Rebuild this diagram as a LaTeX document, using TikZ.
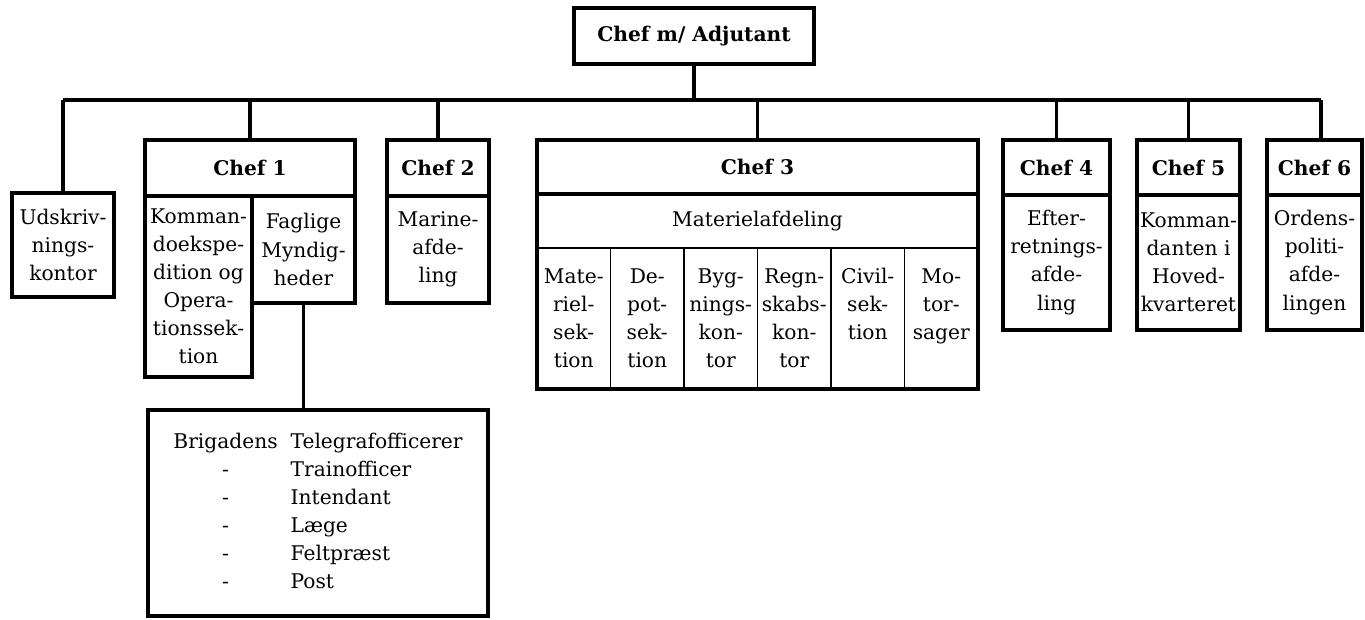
\documentclass[tikz,border=0pt]{standalone}
\usepackage{fontspec}
\setmainfont{DejaVu Serif}
\usetikzlibrary{positioning}

\newcommand{\orgtxt}{\fontsize{11.5}{16}\selectfont}
\newcommand{\orghead}{\fontsize{11.5}{16}\selectfont\bfseries}

\tikzset{
  orgbox/.style={draw, line width=2pt, inner sep=0pt, outer sep=0pt, align=center, font=\orgtxt},
  headbox/.style={orgbox, font=\orghead},
  thinbox/.style={draw, line width=0.9pt, inner sep=0pt, outer sep=0pt},
  orglabel/.style={inner sep=0pt, align=center, font=\orgtxt},
  link/.style={line width=2pt}
}

\begin{document}
\begin{tikzpicture}[x=0.02cm, y=-0.02cm]
  \useasboundingbox (0,0) rectangle (1365,619);
  % top and bus
  \node[headbox, minimum width=4.8cm, minimum height=1.12cm] (chefadj) at (694,36) {Chef m/ Adjutant};
  \coordinate (busL) at (63,100);
  \coordinate (busR) at (1321,100);
  \draw[link] (busL) -- (busR);
  \draw[link] (chefadj.south) -- (chefadj.south |- busL);

  \node[orgbox, minimum width=2.04cm, minimum height=2.08cm] (udskriv) at (63,245) {Udskriv-\\nings-\\kontor};
  \draw[link] (udskriv.north |- busL) -- (udskriv.north);

  % chef 1
  \node[headbox, minimum width=4.2cm, minimum height=1.12cm] (chef1) at (250,168) {Chef 1};
  \node[orgbox, anchor=north west, minimum width=2.14cm, minimum height=3.62cm] (kommando) at (chef1.south west) {Komman-\\doekspe-\\dition og\\Opera-\\tionssek-\\tion};
  \node[orgbox, anchor=north east, minimum width=2.06cm, minimum height=2.14cm] (faglige) at (chef1.south east) {Faglige\\Myndig-\\heder};
  \node[orgbox, minimum width=6.8cm, minimum height=4.12cm] (brigade) at (318,513) {%
    \begin{tabular}{@{}c@{\hspace{0.26cm}}l@{}}
      Brigadens & Telegrafofficerer\\
      - & Trainofficer\\
      - & Intendant\\
      - & Læge\\
      - & Feltpræst\\
      - & Post
    \end{tabular}};
  \draw[link] (faglige.south) -- (faglige.south |- brigade.north);

  % chef 2
  \node[headbox, minimum width=2.04cm, minimum height=1.12cm] (chef2) at (438,168) {Chef 2};
  \node[orgbox, below=0pt of chef2, minimum width=2.04cm, minimum height=2.14cm] (marine) {Marine-\\afde-\\ling};

  % chef 3
  \node[headbox, minimum width=8.82cm, minimum height=1.08cm] (chef3) at (757.5,167) {Chef 3};
  \foreach \txt [count=\i] in {{Mate-\\riel-\\sek-\\tion}, {De-\\pot-\\sek-\\tion}, {Byg-\\nings-\\kon-\\tor}, {Regn-\\skabs-\\kon-\\tor}, {Civil-\\sek-\\tion}, {Mo-\\tor-\\sager}} {
    \node[thinbox, minimum width=1.47cm, minimum height=2.82cm] (sek\i) at (500.25+73.5*\i, 318.5) {};
    \node[orglabel, below=0.4cm of sek\i.north] (sektxt\i) {\txt};
  }
  \node[orgbox, anchor=north, minimum width=8.82cm, minimum height=3.9cm] (materiel) at (chef3.south) {};
  \node[orglabel] (materieltxt) at (757.5,221) {Materielafdeling};

  % chef 4 - 6
  \foreach \n/\x/\w/\txt in {4/1056.5/2.14cm/{Efter-\\retnings-\\afde-\\ling}, 5/1188.5/2.06cm/{Komman-\\danten i\\Hoved-\\kvarteret}, 6/1314.5/1.9cm/{Ordens-\\politi-\\afde-\\lingen}} {
    \node[headbox, minimum width=\w, minimum height=1.1cm] (chef\n) at (\x,167.5) {Chef \n};
    \node[orgbox, below=0pt of chef\n, minimum width=\w, minimum height=2.7cm] (afd\n) {\txt};
  }

  \foreach \n in {1,...,5}
    \draw[link] (chef\n.north |- busL) -- (chef\n.north);
  \draw[link] (busR) -- (busR |- chef6.north);
\end{tikzpicture}
\end{document}
